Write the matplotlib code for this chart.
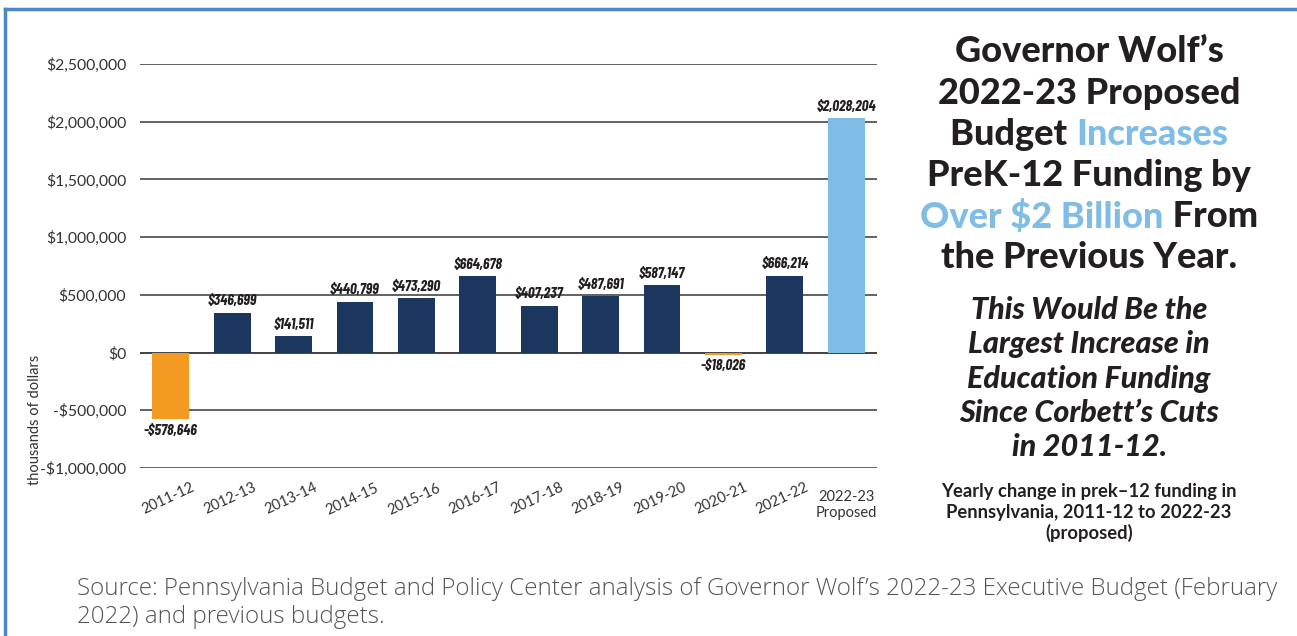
import matplotlib
matplotlib.use("Agg")
import matplotlib.pyplot as plt
from matplotlib.lines import Line2D

# yearly change in preK-12 funding, thousands of dollars
years = ["2011-12", "2012-13", "2013-14", "2014-15", "2015-16", "2016-17",
         "2017-18", "2018-19", "2019-20", "2020-21", "2021-22", "2022-23\nProposed"]
change = [-578646, 346699, 141511, 440799, 473290, 664678,
          407237, 487691, 587147, -18026, 666214, 2028204]
yticks = [-1000000, -500000, 0, 500000, 1000000, 1500000, 2000000, 2500000]

NAVY = "#1b365f"
ORANGE = "#f29a21"
LIGHT = "#7fbde6"
INK = "#231f20"
NARROW = ["Barlow Condensed", "Barlow Semi Condensed", "DejaVu Sans"]

fig = plt.figure(figsize=(12.97, 6.36), dpi=100)
ax = fig.add_axes([0.1079, 0.2642, 0.5683, 0.6352])

colors = []
for i, v in enumerate(change):
    if i == len(change) - 1:
        colors.append(LIGHT)
    elif v < 0:
        colors.append(ORANGE)
    else:
        colors.append(NAVY)

x = list(range(len(years)))
bars = ax.bar(x, change, width=0.6, color=colors, zorder=3)


def money(v):
    return f"-${-v:,.0f}" if v < 0 else f"${v:,.0f}"


ax.bar_label(bars, labels=[money(v) for v in change], padding=3,
             fontsize=11, fontweight="bold", fontstyle="italic",
             family=NARROW, color=INK)

ax.set_xlim(-0.5, len(years) - 0.5)
ax.set_ylim(yticks[0], yticks[-1])
ax.set_yticks(yticks)
ax.set_yticklabels([money(v) if v != 0 else "$0" for v in yticks],
                   family="Lato", fontsize=11.3, color="#333333")
for t in yticks:
    ax.axhline(t, color="#333333" if t == 0 else "#555555", lw=1.3, zorder=1)
for s in ax.spines.values():
    s.set_visible(False)
ax.tick_params(axis="both", length=0, pad=10)

ax.set_xticks(x)
ax.set_xticklabels([])
for i, lab in enumerate(years):
    if "\n" in lab:
        ax.text(i, -1190000, lab, ha="center", va="top", family="Lato",
                fontsize=10.5, color="#333333", linespacing=1.2)
    else:
        ax.text(i + 0.33, -1110000, lab, ha="right", va="top", rotation=25,
                rotation_mode="anchor", family="Lato", fontsize=10.5,
                color="#333333")

fig.text(0.027, 0.34, "thousands of dollars", rotation=90, ha="center",
         va="center", family="Lato", fontsize=10.5, color="#333333")

# headline with highlighted phrases
renderer = fig.canvas.get_renderer()


def draw_line(xc, y, parts, **kw):
    items = [fig.text(0, y, s, color=c, va="center", ha="left", **kw) for s, c in parts]
    widths = [t.get_window_extent(renderer).width for t in items]
    total = sum(widths)
    px = xc * fig.bbox.width - total / 2
    for t, w in zip(items, widths):
        t.set_x(px / fig.bbox.width)
        px += w


head = [
    [("Governor Wolf’s", INK)],
    [("2022-23 Proposed", INK)],
    [("Budget ", INK), ("Increases", LIGHT)],
    [("PreK-12 Funding by", INK)],
    [("Over $2 Billion", LIGHT), (" From", INK)],
    [("the Previous Year.", INK)],
]
xc = 1089 / 1297
for k, parts in enumerate(head):
    y = 1 - (52 + 41.2 * k) / 636
    draw_line(xc, y, parts, family="Lato", fontweight="black", fontsize=26)

sub = ["This Would Be the", "Largest Increase in", "Education Funding",
       "Since Corbett’s Cuts", "in 2011-12."]
for k, s in enumerate(sub):
    fig.text(xc, 1 - (310 + 34.3 * k) / 636, s, ha="center", va="center",
             family="Lato", fontweight="black", fontstyle="italic",
             fontsize=22, color=INK)

cap = ["Yearly change in prek–12 funding in",
       "Pennsylvania, 2011-12 to 2022-23", "(proposed)"]
for k, s in enumerate(cap):
    fig.text(xc, 1 - (492 + 20.5 * k) / 636, s, ha="center", va="center",
             family="Lato", fontweight="bold", fontsize=13.2, color=INK)

fig.text(77 / 1297, 1 - 603 / 636,
         "Source: Pennsylvania Budget and Policy Center analysis of Governor Wolf’s "
         "2022-23 Executive Budget (February\n2022) and previous budgets.",
         ha="left", va="center", family="Open Sans", fontweight="light",
         fontsize=17.4, color="#555555", linespacing=1.22)

# frame around the panel
border = "#4a86c8"
fig.add_artist(Line2D([5 / 1297, 5 / 1297], [0, 1 - 9 / 636], color=border,
                      lw=2.5, transform=fig.transFigure))
fig.add_artist(Line2D([5 / 1297, 1], [1 - 9 / 636, 1 - 9 / 636], color=border,
                      lw=2.5, transform=fig.transFigure))

fig.savefig("out.png", dpi=100)
